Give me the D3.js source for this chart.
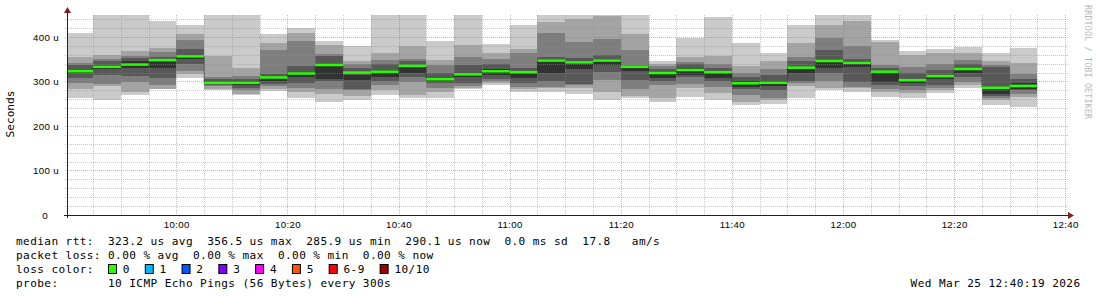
<!DOCTYPE html>
<html>
<head>
<meta charset="utf-8">
<script src="https://cdnjs.cloudflare.com/ajax/libs/d3/7.8.5/d3.min.js"></script>
<style>
  html, body { margin: 0; padding: 0; background: #fff; }
  svg { display: block; font-family: "DejaVu Sans Mono", monospace; }
  .legend text, .stamp { font-size: 11.1px; letter-spacing: 0.4px; white-space: pre; fill: #000; }
  .axis text { font-size: 9.7px; letter-spacing: 0.35px; fill: #000; }
</style>
</head>
<body>
<svg id="chart" width="1097" height="297"></svg>
<script>
var day = "2026-03-25";

// start of each 5 minute step
var times = ["09:40", "09:45", "09:50", "09:55", "10:00", "10:05", "10:10", "10:15", "10:20",
    "10:25", "10:30", "10:35", "10:40", "10:45", "10:50", "10:55", "11:00", "11:05", "11:10",
    "11:15", "11:20", "11:25", "11:30", "11:35", "11:40", "11:45", "11:50", "11:55", "12:00",
    "12:05", "12:10", "12:15", "12:20", "12:25", "12:30"];

// median rtt per step (us)
var medians = [323, 333, 338, 348, 356.5, 297, 297, 309, 318, 337, 320, 322, 335, 305, 316,
    323, 321, 347, 343, 347, 333, 319, 326, 321, 296, 297, 331, 346, 342, 322, 303, 312, 328,
    285.9, 290.1];

// the 10 sorted pings of each step (us)
var pings = [
    [263, 282, 296, 308, 320, 326, 336, 341, 356, 410],
    [258, 290, 294, 315, 328, 336, 345, 350, 359, 450],
    [269, 276, 298, 312, 330, 345, 352, 358, 368, 450],
    [282, 284, 291, 308, 330, 351, 356, 366, 375, 437],
    [308, 316, 323, 340, 350, 360, 372, 394, 407, 428],
    [280, 284, 289, 292, 295, 300, 305, 310, 357, 450],
    [270, 273, 280, 286, 292, 300, 306, 312, 330, 450],
    [278, 284, 290, 294, 301, 309, 316, 370, 386, 406],
    [263, 276, 286, 297, 310, 322, 335, 392, 409, 421],
    [254, 272, 282, 300, 306, 340, 357, 361, 383, 390],
    [258, 268, 280, 284, 303, 315, 330, 340, 345, 379],
    [269, 280, 291, 300, 310, 325, 340, 348, 364, 450],
    [264, 270, 299, 310, 318, 334, 345, 351, 379, 450],
    [264, 276, 285, 296, 300, 306, 318, 336, 349, 390],
    [282, 286, 289, 297, 310, 320, 336, 355, 383, 450],
    [291, 296, 300, 305, 315, 328, 340, 350, 364, 385],
    [276, 282, 288, 296, 307, 318, 330, 364, 372, 426],
    [276, 285, 288, 300, 318, 350, 355, 409, 433, 450],
    [273, 285, 292, 295, 329, 345, 352, 389, 441, 450],
    [258, 276, 303, 321, 336, 350, 360, 396, 448, 450],
    [262, 267, 283, 303, 323, 333, 336, 371, 406, 450],
    [254, 264, 292, 302, 308, 318, 328, 335, 340, 345],
    [265, 286, 295, 310, 314, 330, 340, 344, 355, 398],
    [259, 275, 288, 300, 307, 323, 330, 340, 357, 446],
    [248, 254, 269, 282, 288, 300, 310, 318, 334, 386],
    [250, 258, 262, 280, 290, 300, 315, 327, 346, 365],
    [262, 289, 296, 300, 318, 330, 345, 355, 386, 428],
    [280, 285, 300, 319, 330, 347, 370, 398, 428, 450],
    [276, 285, 288, 299, 333, 345, 351, 379, 437, 450],
    [265, 276, 283, 291, 299, 323, 330, 336, 389, 394],
    [264, 275, 280, 290, 297, 306, 320, 333, 359, 368],
    [275, 280, 286, 292, 305, 315, 325, 339, 364, 372],
    [286, 292, 298, 310, 320, 330, 340, 348, 364, 378],
    [247, 259, 263, 268, 272, 287, 333, 336, 345, 364],
    [242, 265, 271, 280, 284, 296, 305, 316, 342, 375]
];

var yTicks = [0, 100, 200, 300, 400];
var xTicks = ["10:00", "10:20", "10:40", "11:00", "11:20", "11:40", "12:00", "12:20", "12:40"];

var rttStats = [323.2, 356.5, 285.9, 290.1];   // avg, max, min, now (us)
var rttSd = 0.0;                                // ms
var rttAms = 17.8;
var lossStats = [0.00, 0.00, 0.00, 0.00];       // avg, max, min, now (%)
var lossLabels = ["0", "1", "2", "3", "4", "5", "6-9", "10/10"];
var lossColors = ["#26ff00", "#00b8ff", "#0059ff", "#7e00ff", "#ff00ff", "#ff5500", "#ff0000", "#a10000"];
var probeText = "10 ICMP Echo Pings (56 Bytes) every 300s";

var smokeColors = ["#cacaca", "#a4a4a4", "#7e7e7e", "#585858", "#323232"];

var svg = d3.select("#chart");
var parse = d3.timeParse("%Y-%m-%d %H:%M:%S");
var tStart = parse(day + " 09:40:19"),
    tEnd = parse(day + " 12:40:19");

// plot box (window.top is read-only, so no "top" here)
var pL = 67, pR = 1067, pT = 15, pB = 215;

var x = d3.scaleTime().domain([tStart, tEnd]).range([pL, pR]);
var y = d3.scaleLinear().domain([0, 449.4]).range([pB, pT]).clamp(true);

svg.append("defs").append("clipPath").attr("id", "plot")
    .append("rect").attr("x", pL).attr("y", pT)
    .attr("width", pR - pL).attr("height", pB - pT);

var steps = times.map(function(t, i) {
    var t0 = parse(day + " " + t + ":00");
    return { t0: t0, t1: d3.timeMinute.offset(t0, 5), p: pings[i], med: medians[i] };
});

// smoke: band k spans ping k .. ping (11-k), inner bands darker
var smoke = svg.append("g").attr("clip-path", "url(#plot)").attr("shape-rendering", "crispEdges");
smokeColors.forEach(function(col, k) {
    smoke.selectAll(null)
        .data(steps)
        .enter().append("rect")
        .attr("x", function(d) { return x(d.t0); })
        .attr("width", function(d) { return x(d.t1) - x(d.t0); })
        .attr("y", function(d) { return y(d.p[9 - k]); })
        .attr("height", function(d) { return y(d.p[k]) - y(d.p[9 - k]); })
        .attr("fill", col);
});

// grid
var grid = svg.append("g").attr("shape-rendering", "crispEdges").attr("stroke-dasharray", "1,1");
var hMinor = d3.range(20, 449, 20).filter(function(v) { return v % 100 !== 0; });
var hMajor = yTicks.filter(function(v) { return v > 0; });
var vAll = d3.timeMinute.every(5).range(tStart, tEnd);
var vMajor = vAll.filter(function(t) { return t.getMinutes() % 20 === 0; });
var vMinor = vAll.filter(function(t) { return t.getMinutes() % 20 !== 0; });

grid.selectAll(".hmin").data(hMinor).enter().append("line")
    .attr("x1", pL - 2).attr("x2", pR + 2)
    .attr("y1", function(d) { return Math.round(y(d)) + 0.5; })
    .attr("y2", function(d) { return Math.round(y(d)) + 0.5; })
    .attr("stroke", "rgba(143,143,143,0.5)");
grid.selectAll(".vmin").data(vMinor).enter().append("line")
    .attr("x1", function(d) { return Math.round(x(d)) + 0.5; })
    .attr("x2", function(d) { return Math.round(x(d)) + 0.5; })
    .attr("y1", pT).attr("y2", pB + 2)
    .attr("stroke", "rgba(143,143,143,0.5)");
grid.selectAll(".hmaj").data(hMajor).enter().append("line")
    .attr("x1", pL - 2).attr("x2", pR + 2)
    .attr("y1", function(d) { return Math.round(y(d)) + 0.5; })
    .attr("y2", function(d) { return Math.round(y(d)) + 0.5; })
    .attr("stroke", "rgba(222,79,79,0.5)");
grid.selectAll(".vmaj").data(vMajor).enter().append("line")
    .attr("x1", function(d) { return Math.round(x(d)) + 0.5; })
    .attr("x2", function(d) { return Math.round(x(d)) + 0.5; })
    .attr("y1", pT).attr("y2", pB + 2)
    .attr("stroke", "rgba(222,79,79,0.5)");

// median: dotted step connector + green bars
var medPts = steps.map(function(d) { return [Math.max(x(d.t0), pL), y(d.med)]; });
medPts.push([x(steps[steps.length - 1].t1), y(steps[steps.length - 1].med)]);
svg.append("path")
    .attr("d", d3.line().curve(d3.curveStepAfter)(medPts))
    .attr("fill", "none")
    .attr("stroke", "#202020")
    .attr("stroke-dasharray", "1,1");

svg.append("g").attr("clip-path", "url(#plot)")
    .selectAll("rect")
    .data(steps)
    .enter().append("rect")
    .attr("x", function(d) { return x(d.t0); })
    .attr("width", function(d) { return x(d.t1) - x(d.t0); })
    .attr("y", function(d) { return y(d.med) - 1.25; })
    .attr("height", 2.5)
    .attr("fill", lossColors[0]);

// axes
var xAxis = svg.append("g")
    .attr("class", "axis")
    .attr("transform", "translate(0," + pB + ")")
    .call(d3.axisBottom(x)
        .tickValues(xTicks.map(function(t) { return parse(day + " " + t + ":00"); }))
        .tickFormat(d3.timeFormat("%H:%M"))
        .tickSize(0).tickPadding(6));
xAxis.select(".domain").remove();

var yAxis = svg.append("g")
    .attr("class", "axis")
    .attr("transform", "translate(" + pL + ",0)")
    .call(d3.axisLeft(y)
        .tickValues(yTicks)
        .tickFormat(function(d) { return d ? d + " u" : "0"; })
        .tickSize(0).tickPadding(8));
yAxis.select(".domain").remove();
yAxis.selectAll(".tick text").filter(function(d) { return d === 0; }).attr("dx", -11);

svg.append("line").attr("x1", pL - 3).attr("x2", pR + 1)
    .attr("y1", pB + 0.5).attr("y2", pB + 0.5)
    .attr("stroke", "#1f1f1f");
svg.append("line").attr("x1", pL + 0.5).attr("x2", pL + 0.5)
    .attr("y1", pB + 3).attr("y2", 12)
    .attr("stroke", "#1f1f1f");
svg.append("path").attr("d", "M" + (pR + 1) + "," + (pB - 3) + "L" + (pR + 7) + "," + (pB + 0.5) + "L" + (pR + 1) + "," + (pB + 4) + "Z")
    .attr("fill", "#801f1f");
svg.append("path").attr("d", "M" + (pL - 3) + ",13L" + (pL + 0.5) + ",7L" + (pL + 4) + ",13Z")
    .attr("fill", "#801f1f");

svg.append("text")
    .attr("transform", "translate(14,114) rotate(-90)")
    .attr("text-anchor", "middle")
    .style("font-size", "11.1px")
    .text("Seconds");

svg.append("text")
    .attr("transform", "translate(1085,5) rotate(90)")
    .style("font-size", "8.3px")
    .style("letter-spacing", "0.2px")
    .attr("fill", "#b8b8b8")
    .text("RRDTOOL / TOBI OETIKER");

// legend
var f1 = d3.format(".1f"), f2 = d3.format(".2f");
var legend = svg.append("g").attr("class", "legend");
legend.append("text").attr("x", 16).attr("y", 245)
    .text("median rtt:  " + f1(rttStats[0]) + " us avg  " + f1(rttStats[1]) + " us max  " +
        f1(rttStats[2]) + " us min  " + f1(rttStats[3]) + " us now  " + f1(rttSd) + " ms sd  " +
        f1(rttAms) + "   am/s");
legend.append("text").attr("x", 16).attr("y", 259)
    .text("packet loss: " + f2(lossStats[0]) + " % avg  " + f2(lossStats[1]) + " % max  " +
        f2(lossStats[2]) + " % min  " + f2(lossStats[3]) + " % now");
legend.append("text").attr("x", 16).attr("y", 273).text("loss color:");
legend.append("text").attr("x", 16).attr("y", 287).text("probe:       " + probeText);

var bx = 108.5;
lossLabels.forEach(function(lab, i) {
    legend.append("rect")
        .attr("x", bx).attr("y", 264.5).attr("width", 8).attr("height", 9)
        .attr("fill", lossColors[i]).attr("stroke", "#000");
    legend.append("text").attr("x", bx + 14.3).attr("y", 273).text(lab);
    bx = bx + 14.3 + lab.length * 7.08 + 15.4;
});

svg.append("text").attr("class", "stamp")
    .attr("x", 1080.5).attr("y", 287)
    .attr("text-anchor", "end")
    .text(d3.timeFormat("%a %b %e %H:%M:%S %Y")(tEnd));
</script>
</body>
</html>
